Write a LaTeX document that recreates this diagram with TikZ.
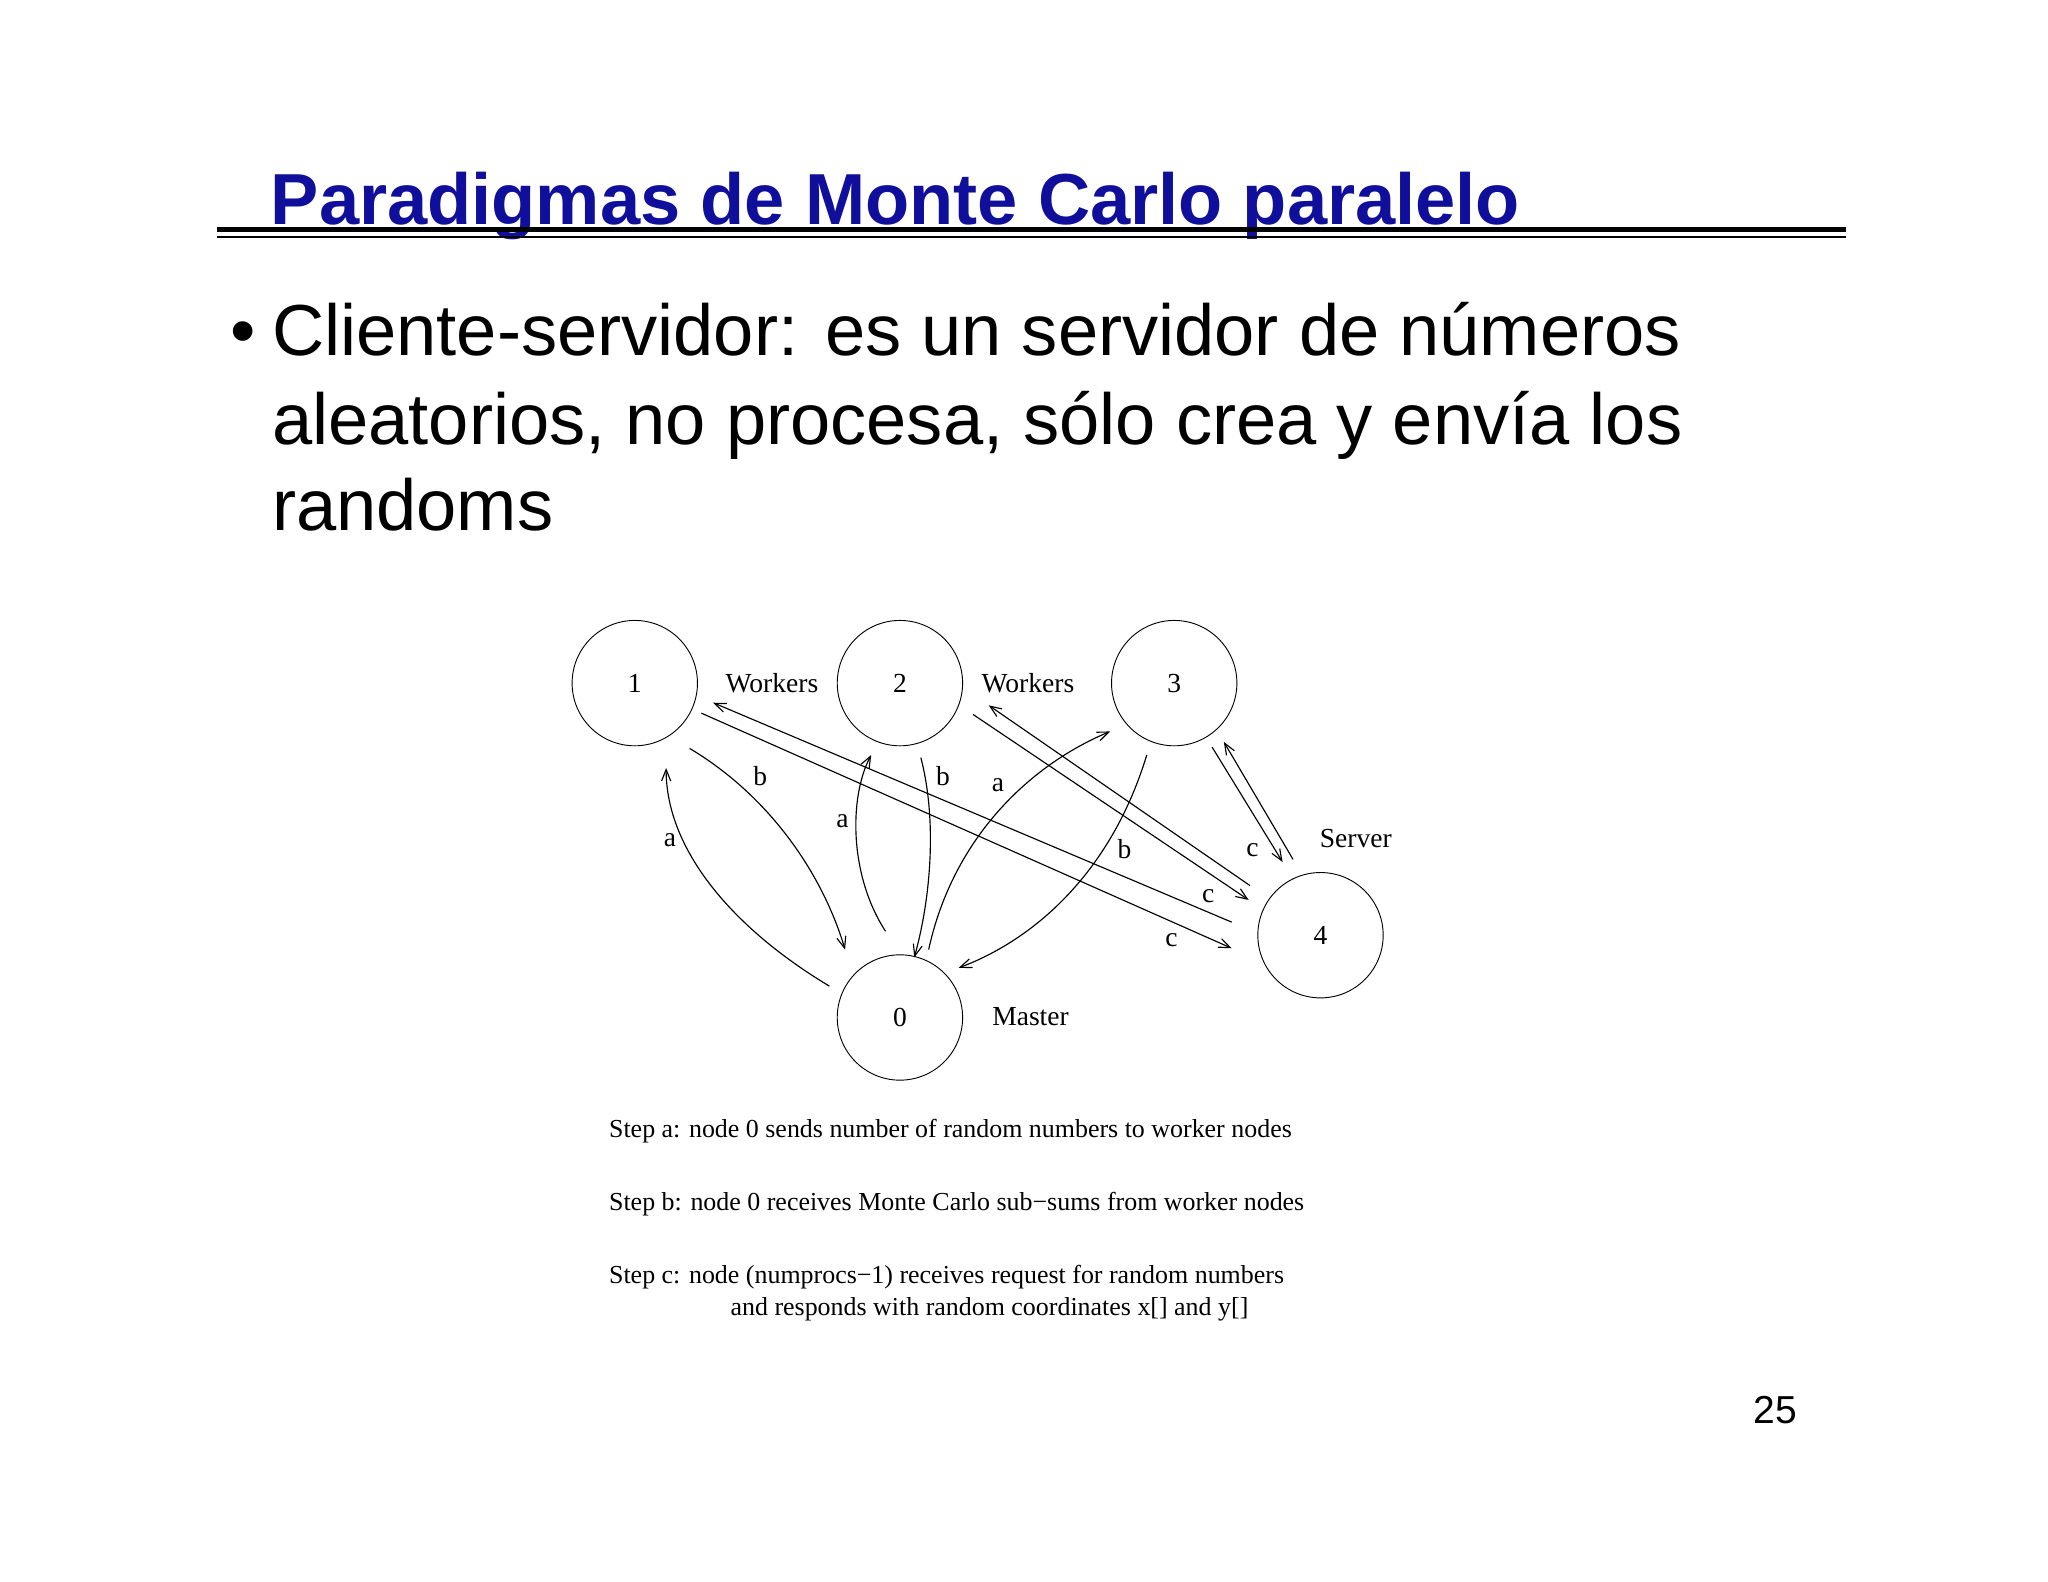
\documentclass[tikz,border=0pt]{standalone}
\usepackage{fontspec}
\setmainfont{Liberation Sans}
\newfontfamily\dfont{Liberation Serif}
\usetikzlibrary{arrows.meta}
\definecolor{titleblue}{RGB}{15,15,155}
\begin{document}
\begin{tikzpicture}[x=0.02cm,y=-0.02cm,
  circ/.style={draw,circle,minimum size=1.92cm,inner sep=0pt,font=\dfont\fontsize{12}{14}\selectfont},
  lab/.style={font=\dfont\fontsize{12}{14}\selectfont,inner sep=1pt},
  arr/.style={-{Straight Barb[length=5pt,width=4pt]},line width=0.5pt},
  steptxt/.style={font=\dfont\fontsize{11.3}{14}\selectfont,anchor=base west,inner sep=0pt},
  body/.style={anchor=base west,inner sep=0pt,font=\fontsize{31.5}{38}\selectfont}]
\useasboundingbox (0,0) rectangle (1568,1211);
\node[anchor=base west,inner sep=0pt,text=titleblue,font=\bfseries\fontsize{31.5}{38}\selectfont] (title) at (207,172) {Paradigmas de Monte Carlo paralelo};
\draw[line width=2.2pt] (166,176) -- (1413,176);
\draw[line width=1.2pt] (166,181.5) -- (1413,181.5);
\node[body] (bul) at (176,272) {•};
\node[body] (l1) at (208,272) {Cliente-servidor: es un servidor de números};
\node[body] (l2) at (208,340) {aleatorios, no procesa, sólo crea y envía los};
\node[body] (l3) at (208,406) {randoms};
% circles
\node[circ] (n1) at (486,523) {1};
\node[circ] (n2) at (689,523) {2};
\node[circ] (n3) at (899,523) {3};
\node[circ] (n4) at (1011,716) {4};
\node[circ] (n0) at (689,779) {0};
\node[lab] (w1) at (591,523) {Workers};
\node[lab] (w2) at (787,523) {Workers};
\node[lab] (sv) at (1038,642) {Server};
\node[lab] (ms) at (789,778) {Master};
% coordinates
\coordinate (a1s) at (635,755); \coordinate (a1e) at (510,588);
\coordinate (b1s) at (528,573); \coordinate (b1e) at (647,727);
\coordinate (a2s) at (678,713); \coordinate (a2e) at (667,578);
\coordinate (b2s) at (705,580); \coordinate (b2e) at (700,733);
\coordinate (a3s) at (711,727); \coordinate (a3e) at (850,560);
\coordinate (b3s) at (878,578); \coordinate (b3e) at (734,741);
\draw[arr] (a1s) .. controls (560,710) and (510,650) .. (a1e);
\draw[arr] (b1s) .. controls (590,610) and (630,670) .. (b1e);
\draw[arr] (a2s) .. controls (650,670) and (650,610) .. (a2e);
\draw[arr] (b2s) .. controls (718,630) and (712,690) .. (b2e);
\draw[arr] (a3s) .. controls (730,640) and (790,585) .. (a3e);
\draw[arr] (b3s) .. controls (850,670) and (790,720) .. (b3e);
\node[lab] at (513,643) {a};
\node[lab] at (582,594) {b};
\node[lab] at (645,629) {a};
\node[lab] at (722,594) {b};
\node[lab] at (764,601) {a};
\node[lab] at (861,650) {b};
% server links
\coordinate (c1a) at (943,706); \coordinate (c1b) at (546,538);
\coordinate (c1c) at (537,546); \coordinate (c1d) at (943,726);
\coordinate (c2a) at (957,678); \coordinate (c2b) at (757,540);
\coordinate (c2c) at (745,547); \coordinate (c2d) at (956,689);
\coordinate (c3a) at (990,658); \coordinate (c3b) at (937,568);
\coordinate (c3c) at (928,572); \coordinate (c3d) at (982,660);
\draw[arr] (c1a) -- (c1b);
\draw[arr] (c1c) -- (c1d);
\draw[arr] (c2a) -- (c2b);
\draw[arr] (c2c) -- (c2d);
\draw[arr] (c3a) -- (c3b);
\draw[arr] (c3c) -- (c3d);
\node[lab] at (959,651) {c};
\node[lab] at (925,686) {c};
\node[lab] at (897,720) {c};
% steps
\node[steptxt] (s1) at (466,871) {Step a: node 0 sends number of random numbers to worker nodes};
\node[steptxt] (s2) at (466,927) {Step b: node 0 receives Monte Carlo sub−sums from worker nodes};
\node[steptxt] (s3) at (466,983) {Step c: node (numprocs−1) receives request for random numbers};
\node[steptxt] (s4) at (559,1007) {and responds with random coordinates x[] and y[]};
\node[anchor=base east,inner sep=0pt,font=\fontsize{17}{20}\selectfont] (pg) at (1376,1090) {25};
\end{tikzpicture}
\end{document}
